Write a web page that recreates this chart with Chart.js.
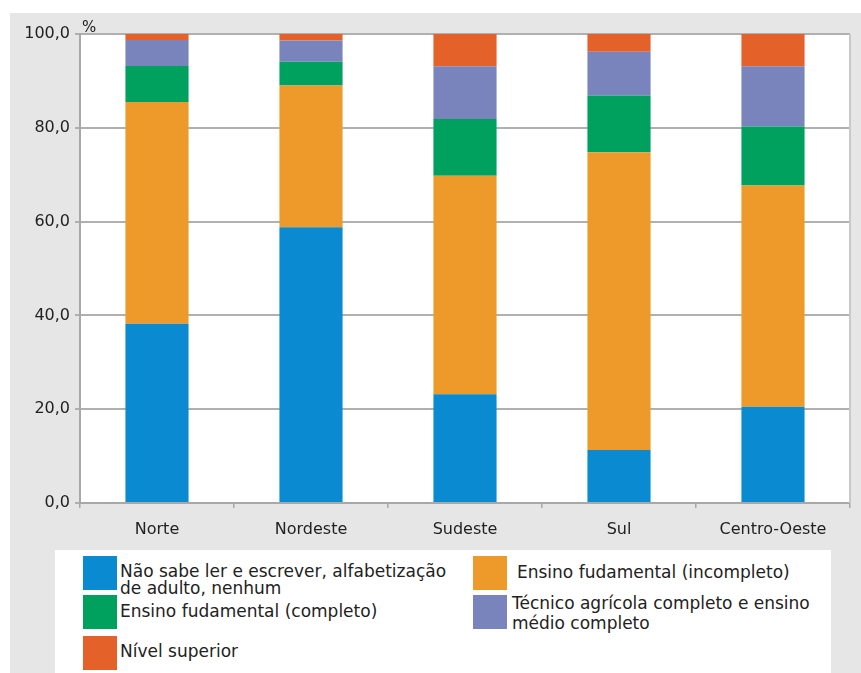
<!DOCTYPE html>
<html>
<head>
<meta charset="utf-8">
<script src="https://cdn.jsdelivr.net/npm/chart.js@4/dist/chart.umd.min.js"></script>
<style>
  html, body { margin: 0; padding: 0; background: #ffffff; }
  #wrap { position: relative; width: 861px; height: 673px; overflow: hidden; }
  canvas { position: absolute; left: 0; top: 0; }
  #legend { position: absolute; left: 55px; top: 550px; width: 776px; height: 123px; background: #ffffff; }
  .sw { position: absolute; width: 34px; height: 34px; }
  .tx { position: absolute; font-family: "DejaVu Sans", sans-serif; font-size: 17px; color: #222222; white-space: nowrap; line-height: 18px; }
</style>
</head>
<body>
<div id="wrap">
  <canvas id="c" width="861" height="673"></canvas>
  <div id="legend"></div>
</div>
<script>
// ---- data ----
const categories = ['Norte', 'Nordeste', 'Sudeste', 'Sul', 'Centro-Oeste'];
const naoSabe        = [38.2, 58.8, 23.2, 11.3, 20.5];
const fundIncompleto = [47.3, 30.2, 46.6, 63.5, 47.2];
const fundCompleto   = [7.7, 5.1, 12.1, 12.1, 12.6];
const tecnicoMedio   = [5.5, 4.5, 11.2, 9.3, 12.8];
const superior       = [1.3, 1.4, 6.9, 3.8, 6.9];
const yTicks = [0, 20, 40, 60, 80, 100];
const seriesNames = [
  'Não sabe ler e escrever, alfabetização de adulto, nenhum',
  'Ensino fudamental (incompleto)',
  'Ensino fudamental (completo)',
  'Técnico agrícola completo e ensino médio completo',
  'Nível superior'
];
const seriesColors = ['#0a8ad0', '#ee9a2b', '#00a05f', '#7a84bc', '#e5612a'];
const seriesValues = [naoSabe, fundIncompleto, fundCompleto, tecnicoMedio, superior];

const bgPlugin = {
  id: 'bg',
  beforeDraw(chart) {
    const ctx = chart.ctx, a = chart.chartArea;
    ctx.save();
    ctx.fillStyle = '#ffffff';
    ctx.fillRect(0, 0, chart.width, chart.height);
    ctx.fillStyle = '#e6e6e6';
    ctx.fillRect(10, 13, chart.width - 10, chart.height - 13);
    ctx.fillStyle = '#ffffff';
    ctx.fillRect(a.left, a.top, a.right - a.left, a.bottom - a.top);
    ctx.restore();
  },
  afterDraw(chart) {
    const ctx = chart.ctx, a = chart.chartArea;
    ctx.save();
    ctx.strokeStyle = '#c9c9c9';
    ctx.lineWidth = 2;
    ctx.beginPath();
    ctx.moveTo(a.right, a.top);
    ctx.lineTo(a.right, a.bottom);
    ctx.stroke();
    ctx.fillStyle = '#222222';
    ctx.font = '15px "DejaVu Sans", sans-serif';
    ctx.textBaseline = 'alphabetic';
    ctx.fillText('%', a.left + 2, a.top - 2);
    ctx.restore();
  }
};

new Chart(document.getElementById('c'), {
  type: 'bar',
  data: {
    labels: categories,
    datasets: seriesNames.map((n, i) => ({
      label: n,
      data: seriesValues[i],
      backgroundColor: seriesColors[i],
      borderWidth: 0,
      barPercentage: 0.41,
      categoryPercentage: 1.0
    }))
  },
  options: {
    responsive: false,
    animation: false,
    layout: { padding: { left: 0, top: 34, right: 11, bottom: 0 } },
    plugins: { legend: { display: false }, tooltip: { enabled: false } },
    scales: {
      x: {
        stacked: true,
        afterFit(s) { s.height = 170; },
        grid: { drawOnChartArea: false, drawTicks: true, tickLength: 5, color: '#a8a8a8', lineWidth: 1.5 },
        border: { display: true, color: '#a8a8a8', width: 2 },
        ticks: { color: '#222222', font: { family: '"DejaVu Sans", sans-serif', size: 16 }, padding: 12 }
      },
      y: {
        stacked: true,
        min: 0, max: 100,
        afterFit(s) { s.width = 80; },
        afterBuildTicks(s) { s.ticks = yTicks.map(v => ({ value: v })); },
        grid: { color: '#b0b0b0', lineWidth: 2, tickLength: 5, drawTicks: true },
        border: { display: true, color: '#a8a8a8', width: 2 },
        ticks: {
          color: '#222222',
          font: { family: '"DejaVu Sans", sans-serif', size: 16 },
          padding: 5,
          callback: v => v.toFixed(1).replace('.', ',')
        }
      }
    }
  },
  plugins: [bgPlugin]
});

// ---- legend (HTML, real text) ----
const legendLayout = [
  { sw: [28, 6], lines: [[65, 12], [65, 29]] },
  { sw: [418, 6], lines: [[462, 13]] },
  { sw: [28, 45], lines: [[65, 52]] },
  { sw: [418, 45], lines: [[457, 44], [457, 64]] },
  { sw: [28, 86], lines: [[65, 92]] }
];
const legendLines = [
  ['Não sabe ler e escrever, alfabetização', 'de adulto, nenhum'],
  ['Ensino fudamental (incompleto)'],
  ['Ensino fudamental (completo)'],
  ['Técnico agrícola completo e ensino', 'médio completo'],
  ['Nível superior']
];
const lg = document.getElementById('legend');
legendLayout.forEach((it, i) => {
  const s = document.createElement('div');
  s.className = 'sw';
  s.style.left = it.sw[0] + 'px';
  s.style.top = it.sw[1] + 'px';
  s.style.background = seriesColors[i];
  lg.appendChild(s);
  it.lines.forEach((p, j) => {
    const t = document.createElement('div');
    t.className = 'tx';
    t.style.left = p[0] + 'px';
    t.style.top = p[1] + 'px';
    t.textContent = legendLines[i][j];
    lg.appendChild(t);
  });
});
</script>
</body>
</html>
